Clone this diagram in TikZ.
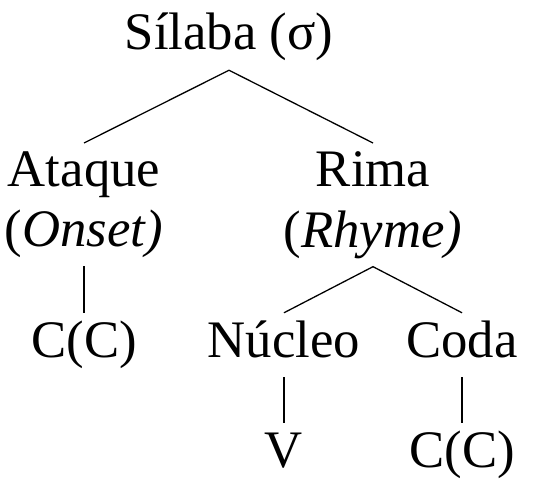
\documentclass[tikz,border=0pt]{standalone}
\usepackage{fontspec}
\setmainfont{Liberation Serif}
\begin{document}
\begin{tikzpicture}[
  x=0.03cm, y=-0.03cm,
  lbl/.style={font=\fontsize{45pt}{52pt}\selectfont, inner sep=0.24cm,
    text height=1.08cm, text depth=0.36cm, anchor=base},
  two/.style={font=\fontsize{45pt}{52pt}\selectfont, inner sep=0.24cm,
    align=center, anchor=north},
  edge/.style={line width=1.1pt, black}
]
\useasboundingbox (0,0) rectangle (534,480);
\node[lbl] (sil) at (229,50) {Sílaba (σ)};
\node[two] (ataque) at (84,143) {Ataque\\(\textit{Onset)}};
\node[two] (rima) at (373,143) {Rima\\(\textit{Rhyme)}};
\node[lbl] (cc1) at (84,357) {C(C)};
\node[lbl] (nucleo) at (284,357) {Núcleo};
\node[lbl] (coda) at (462,357) {Coda};
\node[lbl] (v) at (284,467) {V};
\node[lbl] (cc2) at (462,467) {C(C)};
\draw[edge] (ataque.north) -- (sil.south) -- (rima.north);
\draw[edge] (ataque.south) -- (cc1.north);
\draw[edge] (nucleo.north) -- (rima.south) -- (coda.north);
\draw[edge] (nucleo.south) -- (v.north);
\draw[edge] (coda.south) -- (cc2.north);
\end{tikzpicture}
\end{document}
